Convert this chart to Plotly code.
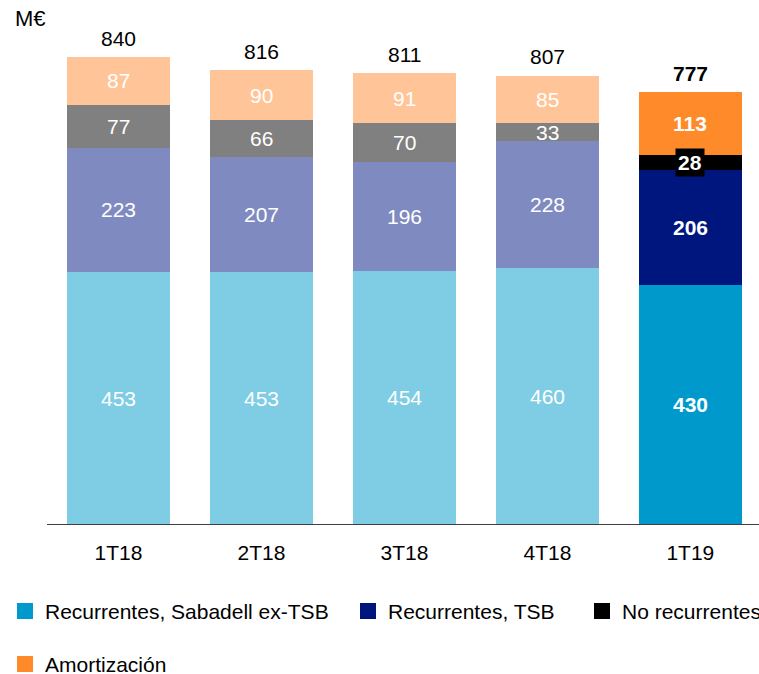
import plotly.graph_objects as go

# Quarterly cost breakdown (M€)
quarters = ["1T18", "2T18", "3T18", "4T18", "1T19"]
rec_sabadell = [453, 453, 454, 460, 430]
rec_tsb = [223, 207, 196, 228, 206]
no_rec = [77, 66, 70, 33, 28]
amortizacion = [87, 90, 91, 85, 113]
totals = [840, 816, 811, 807, 777]

series_names = ["Recurrentes, Sabadell ex-TSB", "Recurrentes, TSB",
                "No recurrentes", "Amortización"]
series_values = [rec_sabadell, rec_tsb, no_rec, amortizacion]

# strong colours for the current quarter, faded tints for the prior year
strong = ["#0099CC", "#00167F", "#000000", "#FF8A2A"]
faded = ["#7FCCE5", "#7F8BC0", "#808080", "#FFC598"]

FONT = "Liberation Sans, Arial, sans-serif"
W, H = 759, 674
L, R, T, B = 47, 0, 20, 150
PW, PH = W - L - R, H - T - B


def px_x(px):
    return (px - L) / PW


def px_y(py):
    return (T + PH - py) / PH


fig = go.Figure()
n = len(quarters)
for name, vals, sc, fc in zip(series_names, series_values, strong, faded):
    colors = [fc] * (n - 1) + [sc]
    fig.add_trace(go.Bar(
        x=quarters, y=vals, name=name,
        marker=dict(color=colors, line=dict(width=0)),
        showlegend=False, hoverinfo="skip",
    ))

annotations = []
# segment labels at each segment's midpoint
base = [0] * n
for si, vals in enumerate(series_values):
    for i, v in enumerate(vals):
        last = i == n - 1
        txt = f"<b>{v}</b>" if last else str(v)
        ann = dict(x=quarters[i], y=base[i] + v / 2, text=txt, showarrow=False,
                   font=dict(family=FONT, size=21, color="white"),
                   xanchor="center", yanchor="middle")
        if last and si == 2:
            ann.update(bgcolor="black", borderpad=2)
        annotations.append(ann)
        base[i] += v

# totals above each bar
for i, t in enumerate(totals):
    last = i == n - 1
    annotations.append(dict(
        x=quarters[i], y=t, text=f"<b>{t}</b>" if last else str(t),
        showarrow=False, yanchor="bottom", yshift=5,
        font=dict(family=FONT, size=21, color="black")))

# unit label
annotations.append(dict(xref="paper", yref="paper", x=px_x(13), y=px_y(18),
                        text="M€", showarrow=False, xanchor="left", yanchor="middle",
                        font=dict(family=FONT, size=22, color="black")))

# legend drawn as squares + text
legend_pos = [(17, 611), (360, 611), (594, 611), (17, 664)]
shapes = []
for (lx, ly), name, c in zip(legend_pos, series_names, strong):
    shapes.append(dict(type="rect", xref="paper", yref="paper",
                       x0=px_x(lx), x1=px_x(lx + 16),
                       y0=px_y(ly + 8), y1=px_y(ly - 8),
                       fillcolor=c, line=dict(width=0)))
    annotations.append(dict(xref="paper", yref="paper", x=px_x(lx + 26), y=px_y(ly),
                            text=name, showarrow=False, xanchor="left",
                            yanchor="middle",
                            font=dict(family=FONT, size=21, color="black")))

fig.update_layout(
    width=W, height=H,
    margin=dict(l=L, r=R, t=T, b=B),
    barmode="stack", bargap=0.28,
    plot_bgcolor="white", paper_bgcolor="white",
    xaxis=dict(range=[-0.5, 4.48], showline=True, linecolor="#404040", linewidth=1,
               ticks="", showgrid=False, zeroline=False,
               tickfont=dict(family=FONT, size=21, color="black"),
               ticklabelstandoff=10),
    yaxis=dict(range=[0, 906], visible=False, showgrid=False),
    annotations=annotations,
    shapes=shapes,
)

fig.write_html("out.html")
